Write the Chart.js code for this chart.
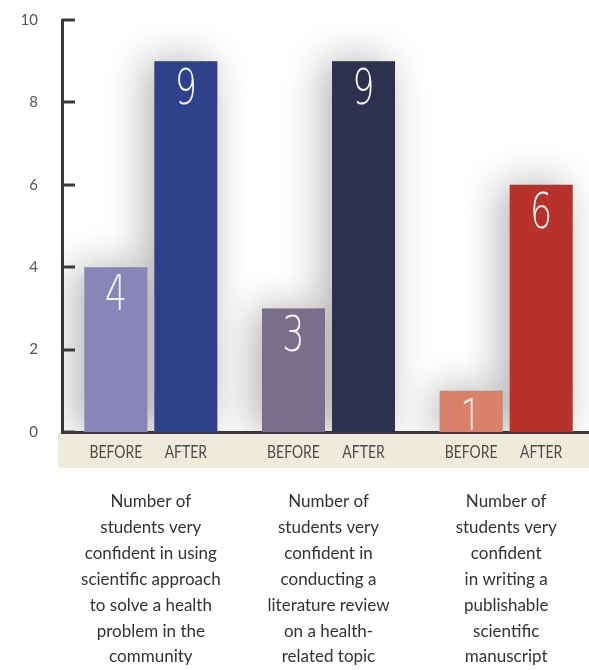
<!DOCTYPE html>
<html lang="en">
<head>
    <meta charset="UTF-8">
    <title>Student confidence before and after</title>
    <script src="https://cdn.jsdelivr.net/npm/chart.js"></script>
    <style>
        html, body { margin: 0; padding: 0; background: #ffffff; overflow: hidden; }
        #wrap { width: 595px; height: 670px; }
    </style>
</head>
<body>
<div id="wrap"><canvas id="confidenceChart" width="595" height="670"></canvas></div>
<script>
    // Category labels (one array of lines per group)
    const groupLabels = [
        ['Number of', 'students very', 'confident in using', 'scientific approach', 'to solve a health', 'problem in the', 'community'],
        ['Number of', 'students very', 'confident in', 'conducting a', 'literature review', 'on a health-', 'related topic'],
        ['Number of', 'students very', 'confident', 'in writing a', 'publishable', 'scientific', 'manuscript']
    ];
    const phases = ['BEFORE', 'AFTER'];
    const beforeCounts = [4, 3, 1];
    const afterCounts = [9, 9, 6];
    const yTicks = [0, 2, 4, 6, 8, 10];

    const beforeColors = ['#8886b8', '#7a6f8a', '#d98269'];
    const afterColors = ['#2f418a', '#2e3050', '#b8312b'];
    const ink = '#3a3a3a';

    // soft haze behind the bars
    const barShadow = {
        id: 'barShadow',
        beforeDatasetsDraw(chart) {
            const ctx = chart.ctx;
            const area = chart.chartArea;
            ctx.save();
            ctx.beginPath();
            ctx.rect(area.left, 0, chart.width, area.bottom);
            ctx.clip();
            ctx.shadowColor = 'rgba(0,0,0,0.32)';
            ctx.shadowBlur = 40;
            ctx.shadowOffsetX = -8;
            ctx.fillStyle = '#c8c8c8';
            chart.data.datasets.forEach((ds, i) => {
                chart.getDatasetMeta(i).data.forEach(bar => {
                    const p = bar.getProps(['x', 'y', 'base', 'width'], true);
                    ctx.fillRect(p.x - p.width / 2, p.y, p.width, p.base - p.y);
                });
            });
            ctx.restore();
        }
    };

    // beige band under the axis with BEFORE / AFTER under each bar
    const phaseBand = {
        id: 'phaseBand',
        beforeDraw(chart) {
            const ctx = chart.ctx;
            const bottom = chart.chartArea.bottom;
            ctx.save();
            ctx.fillStyle = '#efebdc';
            ctx.fillRect(chart.chartArea.left - 4, bottom, chart.width, 36);
            ctx.restore();
        },
        afterDatasetsDraw(chart) {
            const ctx = chart.ctx;
            const bottom = chart.chartArea.bottom;
            ctx.save();
            ctx.fillStyle = '#4a4a4a';
            ctx.font = '17px Lato, "Open Sans", sans-serif';
            ctx.textAlign = 'center';
            ctx.textBaseline = 'middle';
            chart.data.datasets.forEach((ds, i) => {
                chart.getDatasetMeta(i).data.forEach(bar => {
                    ctx.save();
                    ctx.translate(bar.x, bottom + 21);
                    ctx.scale(0.82, 1);
                    ctx.fillText(phases[i], 0, 0);
                    ctx.restore();
                });
            });
            ctx.restore();
        }
    };

    // large white values near the top of each bar
    const valueLabels = {
        id: 'valueLabels',
        afterDatasetsDraw(chart) {
            const ctx = chart.ctx;
            const area = chart.chartArea;
            ctx.save();
            ctx.beginPath();
            ctx.rect(area.left, area.top - 10, area.right - area.left, area.bottom - area.top + 8);
            ctx.clip();
            ctx.fillStyle = '#f4f4f4';
            ctx.font = '200 50px "DejaVu Sans", Lato, sans-serif';
            ctx.textAlign = 'center';
            ctx.textBaseline = 'middle';
            chart.data.datasets.forEach((ds, i) => {
                chart.getDatasetMeta(i).data.forEach((bar, j) => {
                    ctx.save();
                    ctx.translate(bar.x, bar.y + 30);
                    ctx.scale(0.7, 1);
                    ctx.fillText(String(ds.data[j]), 0, 0);
                    ctx.restore();
                });
            });
            ctx.restore();
        }
    };

    // short tick marks pointing into the plot
    const innerTicks = {
        id: 'innerTicks',
        afterDraw(chart) {
            const ctx = chart.ctx;
            const y = chart.scales.y;
            const left = chart.chartArea.left;
            ctx.save();
            ctx.strokeStyle = ink;
            ctx.lineWidth = 3;
            yTicks.forEach(v => {
                const py = Math.round(y.getPixelForValue(v));
                ctx.beginPath();
                ctx.moveTo(left, py);
                ctx.lineTo(left + 13, py);
                ctx.stroke();
            });
            ctx.restore();
        }
    };

    const ctx1 = document.getElementById('confidenceChart').getContext('2d');
    const chart = new Chart(ctx1, {
        type: 'bar',
        data: {
            labels: groupLabels,
            datasets: [{
                label: phases[0],
                data: beforeCounts,
                backgroundColor: beforeColors,
                categoryPercentage: 0.788,
                barPercentage: 0.9
            }, {
                label: phases[1],
                data: afterCounts,
                backgroundColor: afterColors,
                categoryPercentage: 0.788,
                barPercentage: 0.9
            }]
        },
        options: {
            responsive: false,
            animation: false,
            devicePixelRatio: 1,
            layout: { padding: { top: 20, right: 0, left: 0, bottom: 0 } },
            plugins: {
                legend: { display: false },
                tooltip: { enabled: false }
            },
            scales: {
                x: {
                    // fixed height; drop the side margins the long labels would add
                    afterFit(scale) {
                        scale.height = 238;
                        scale.paddingLeft = 0;
                        scale.paddingRight = 0;
                    },
                    grid: { display: false, drawTicks: false },
                    border: { display: true, color: ink, width: 3 },
                    ticks: {
                        padding: 57,
                        color: '#333333',
                        font: { family: 'Lato, "Open Sans", sans-serif', size: 17, lineHeight: 1.52 },
                        maxRotation: 0,
                        autoSkip: false
                    }
                },
                y: {
                    min: 0,
                    max: 10,
                    afterFit(scale) {
                        scale.width = 62;
                        scale.paddingTop = 0;
                        scale.paddingBottom = 0;
                    },
                    afterBuildTicks(scale) { scale.ticks = yTicks.map(v => ({ value: v })); },
                    grid: { display: false, drawTicks: false },
                    border: { display: true, color: ink, width: 3 },
                    ticks: {
                        padding: 24,
                        color: '#555555',
                        font: { family: 'Lato, "Open Sans", sans-serif', size: 15 }
                    }
                }
            }
        },
        plugins: [phaseBand, barShadow, valueLabels, innerTicks]
    });
</script>
</body>
</html>
